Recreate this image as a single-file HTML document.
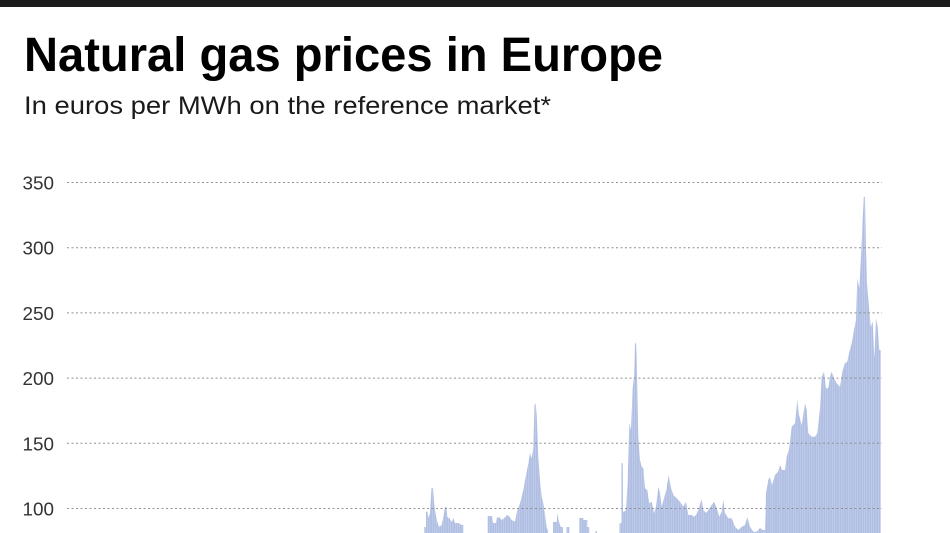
<!DOCTYPE html>
<html>
<head>
<meta charset="utf-8">
<style>
  html, body { margin: 0; padding: 0; background: #ffffff; }
  body { width: 950px; height: 533px; overflow: hidden; }
  svg { display: block; }
</style>
</head>
<body>
<svg width="950" height="533" viewBox="0 0 950 533" xmlns="http://www.w3.org/2000/svg">
  <defs>
    <pattern id="bars" x="0" y="0" width="2.3" height="20" patternUnits="userSpaceOnUse">
      <rect x="0" y="0" width="2.3" height="20" fill="#afbee2"/>
      <rect x="1.9" y="0" width="0.4" height="20" fill="#d3dcf0"/>
    </pattern>
  </defs>
  <rect x="0" y="0" width="950" height="533" fill="#ffffff"/>
  <rect x="0" y="0" width="950" height="7" fill="#1c1c1c"/>

  <text x="24" y="71" font-family="Liberation Sans, sans-serif" font-weight="bold" font-size="48" fill="#000" textLength="639" lengthAdjust="spacingAndGlyphs">Natural gas prices in Europe</text>
  <text x="24" y="114" font-family="Liberation Sans, sans-serif" font-size="25" fill="#1a1a1a" textLength="527" lengthAdjust="spacingAndGlyphs">In euros per MWh on the reference market*</text>

  <!-- bars -->
  <g fill="url(#bars)">
    <polygon points="424.3,533 424.3,527 426,527 426,511.7 427.5,511.7 428.3,518 430,513 431.5,488 433,488 433.7,498 435,510 436.7,520 439,527 441.7,525 443.3,517 445,507 446.5,507 447.3,517 449.3,518 451.7,522 453.3,518 455,523 458.3,523 461.7,525 463.3,525 463.3,533"/>
    <polygon points="487.7,533 487.7,516 492,516 493,523 496,523 496.7,518 499,517 501.7,520 504.3,518 507,515 509,516 511.7,520 515,521.7 516.7,513 518.3,508 521,500 523.3,490 525.7,476.7 527.7,466.7 530,453.3 531.7,458.3 533.3,448.3 534.5,405 535.5,403.3 536.7,415 538.3,456.7 540,480 541.7,496.7 543.3,503 545,515 546.7,528 548,530 548,533"/>
    <polygon points="553,533 553,522 556.7,522 557.5,513 558.5,520 560.7,527 562.7,527 563,533"/>
    <polygon points="566.5,533 566.5,527 569.3,527 569.3,533"/>
    <polygon points="579.3,533 579.3,518 583.3,518 583.3,520 587.3,520 587.3,527 589.3,527 589.3,533"/>
    <polygon points="595.5,533 595.5,531 597,531 597,533"/>
    <polygon points="619.5,533 619.5,523.3 621.5,523.3 621.5,463.3 622.8,463.3 623,511.7 624,511.7 626,510 627.7,480 629.3,423.3 631,430 632.7,388.3 634,376.7 635,343.3 636,343.3 636.7,360 638.3,436.7 640,460 641.7,466.7 643.3,468.3 645,488.3 647.3,490 649.3,503.3 651.7,501.7 654,513.3 656,506.7 658.3,486.7 660,493.3 661.7,506.7 664,498.3 666.3,490 668.7,475 670.7,486.7 673.3,495 676.7,498.3 680,501.7 683.3,506.7 686,501.7 688.3,515 691.7,515 694,516.7 696,515 698.3,510 701.7,499 703.3,510 706,513 708.3,510 711.7,505 714,501.7 716.7,508 719.3,516.7 721.7,511.7 723.3,500 725,513 728.3,518.3 731.7,518.3 735,526.7 738.3,530 741.7,526.7 745,525 747.3,516.7 750,526.7 753.3,531.7 756.7,531.7 760,528 762.7,530 765,530 766,493 768.3,480 770,476.7 772,485 775,475 778,471.7 780,465 782,470 785,470 786.7,456.7 789.3,448.3 791.7,426.7 795,423.3 797.3,400 799,415 801.7,425 805,403.3 806.7,410 808.3,433.3 811.7,436.7 815,436.7 817.3,433.3 820,408.3 821.7,376.7 824,371.7 826,388.3 828.3,388.3 830,376.7 831.7,371.7 834,378.3 836.7,383.3 840,386.7 842.7,370 845,363.3 847.3,361.7 849.3,351.7 851.7,343.3 854,330 856,320 857.3,278.3 859.3,288.3 861,256.7 862.7,220 863.8,196.7 865,196.7 866,250 867,283.3 868.7,303.3 870.7,326.7 872.7,321.7 874.3,358.3 876,318.3 877.7,326.7 879.3,350 880.7,350 880.7,533"/>
  </g>

  <!-- gridlines -->
  <g stroke="#909090" stroke-width="1" stroke-dasharray="2,2.5">
    <line x1="67" y1="182.5" x2="882" y2="182.5"/>
    <line x1="67" y1="247.7" x2="882" y2="247.7"/>
    <line x1="67" y1="312.9" x2="882" y2="312.9"/>
    <line x1="67" y1="378.1" x2="882" y2="378.1"/>
    <line x1="67" y1="443.3" x2="882" y2="443.3"/>
    <line x1="67" y1="508.5" x2="882" y2="508.5"/>
  </g>

  <!-- y labels -->
  <g font-family="Liberation Sans, sans-serif" font-size="18" fill="#333">
    <text x="22.5" y="189.5" textLength="31.5" lengthAdjust="spacingAndGlyphs">350</text>
    <text x="22.5" y="254.7" textLength="31.5" lengthAdjust="spacingAndGlyphs">300</text>
    <text x="22.5" y="319.9" textLength="31.5" lengthAdjust="spacingAndGlyphs">250</text>
    <text x="22.5" y="385.1" textLength="31.5" lengthAdjust="spacingAndGlyphs">200</text>
    <text x="22.5" y="450.3" textLength="31.5" lengthAdjust="spacingAndGlyphs">150</text>
    <text x="22.5" y="515.5" textLength="31.5" lengthAdjust="spacingAndGlyphs">100</text>
  </g>
</svg>
</body>
</html>
